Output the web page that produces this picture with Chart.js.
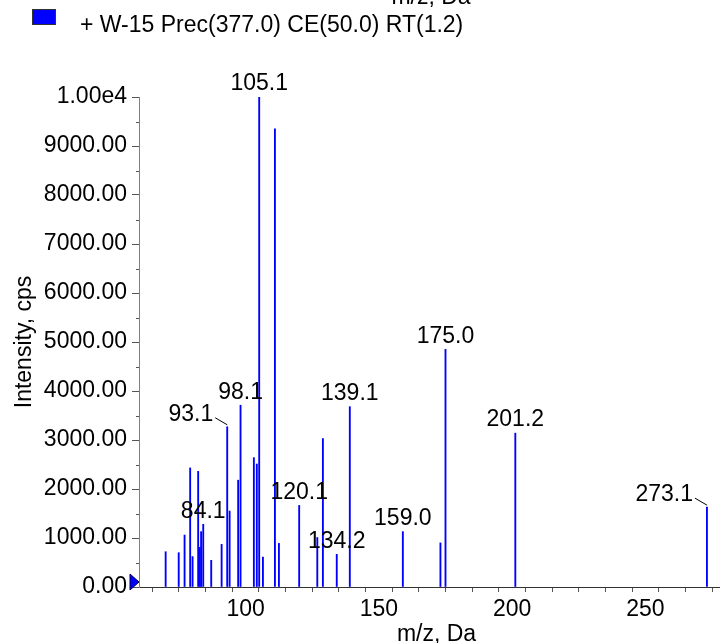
<!DOCTYPE html>
<html><head><meta charset="utf-8">
<script src="https://cdn.jsdelivr.net/npm/chart.js@4.4.1/dist/chart.umd.min.js"></script>
<style>html,body{margin:0;padding:0;background:#fff;}canvas{display:block;}</style>
</head><body>
<canvas id="c" width="720" height="643"></canvas>
<script>
// ---- data ----
const seriesName = '+ W-15 Prec(377.0) CE(50.0) RT(1.2)';
const mzValues = [70.0, 74.9, 77.1, 79.2, 80.1, 82.2, 82.8, 83.3, 84.1, 87.1, 91.0, 93.1, 94.0, 97.2, 98.1,
  103.1, 104.2, 105.1, 106.5, 111.0, 112.5, 120.1, 126.9, 129.0, 134.2, 139.1, 159.0, 173.1, 175.0, 201.2, 273.1];
const intensities = [720, 700, 1060, 2430, 620, 2360, 810, 1130, 1280, 545, 870, 3270, 1550, 2180, 3710,
  2640, 2510, 10000, 610, 9350, 890, 1665, 1010, 3030, 667, 3680, 1130, 900, 4850, 3140, 1630];
const labelledPeaks = [84.1, 93.1, 98.1, 105.1, 120.1, 134.2, 139.1, 159.0, 175.0, 201.2, 273.1];
const leaderPeaks = [93.1, 273.1];
const yTickLabels = ['0.00', '1000.00', '2000.00', '3000.00', '4000.00', '5000.00', '6000.00', '7000.00', '8000.00', '9000.00', '1.00e4'];
const xTickLabels = [100, 150, 200, 250];
const xTitle = 'm/z, Da';
const yTitle = 'Intensity, cps';

const FAMILY = "'Liberation Sans', Arial, sans-serif";
const FONT = '23px ' + FAMILY;
Chart.defaults.font.family = FAMILY;
Chart.defaults.font.size = 23;
Chart.defaults.color = '#000';

const decor = {
  id: 'decor',
  afterDraw(chart) {
    const {ctx, chartArea: a, scales: {x, y}} = chart;
    ctx.save();
    // minor y ticks
    ctx.strokeStyle = '#555'; ctx.lineWidth = 1;
    for (let v = 500; v < 10000; v += 1000) {
      const py = Math.round(y.getPixelForValue(v)) + 0.5;
      ctx.beginPath(); ctx.moveTo(a.left - 3, py); ctx.lineTo(a.left, py); ctx.stroke();
    }
    // origin marker
    const y0 = y.getPixelForValue(0);
    ctx.fillStyle = '#0000ff'; ctx.strokeStyle = '#000040';
    ctx.beginPath(); ctx.moveTo(a.left - 9, y0 - 13); ctx.lineTo(a.left, y0 - 5); ctx.lineTo(a.left - 9, y0 + 3); ctx.closePath();
    ctx.fill(); ctx.stroke();
    // legend
    ctx.fillStyle = '#0000ff'; ctx.fillRect(32, 9, 24, 16);
    ctx.strokeStyle = '#333'; ctx.strokeRect(32.5, 9.5, 23, 15);
    ctx.fillStyle = '#000'; ctx.font = FONT; ctx.textAlign = 'left'; ctx.textBaseline = 'alphabetic';
    ctx.fillText(seriesName, 80, 32);
    // titles
    ctx.textAlign = 'center';
    ctx.fillText(xTitle, 431, 4);
    ctx.fillText(xTitle, (a.left + a.right) / 2 + 7, 641);
    // peak labels
    ctx.textBaseline = 'middle';
    ctx.strokeStyle = '#000'; ctx.lineWidth = 1;
    labelledPeaks.forEach(mz => {
      const i = mzValues.indexOf(mz);
      const px = x.getPixelForValue(mz), py = y.getPixelForValue(intensities[i]);
      const text = mz.toFixed(1);
      if (leaderPeaks.includes(mz)) {
        ctx.textAlign = 'right';
        const rx = px - 14, cy = py - 12;
        ctx.fillText(text, rx, cy);
        ctx.beginPath(); ctx.moveTo(rx + 2, cy + 3); ctx.lineTo(px, py - 2); ctx.stroke();
      } else {
        ctx.textAlign = 'center';
        ctx.fillText(text, px, py - 13);
      }
    });
    ctx.restore();
  }
};

new Chart(document.getElementById('c'), {
  type: 'bar',
  data: {
    datasets: [{
      label: seriesName,
      data: mzValues.map((m, i) => ({x: m, y: intensities[i]})),
      backgroundColor: '#0000ff',
      borderWidth: 0,
      barThickness: 1.2
    }]
  },
  options: {
    responsive: false,
    animation: false,
    layout: {padding: {top: 97, left: 0, right: 0, bottom: 0}},
    plugins: {legend: {display: false}, tooltip: {enabled: false}},
    scales: {
      x: {
        type: 'linear', min: 60, max: 278, offset: false,
        afterFit(s) { s.height = 56; },
        ticks: {
          stepSize: 10, includeBounds: false, autoSkip: false, maxRotation: 0, padding: 4,
          callback: v => xTickLabels.includes(v) ? String(v) : ''
        },
        grid: {drawOnChartArea: false, drawTicks: true, tickLength: 5, tickColor: '#555'},
        border: {display: true, color: '#333'}
      },
      y: {
        min: 0, max: 10000,
        afterFit(s) { s.width = 139; },
        ticks: {
          stepSize: 1000, padding: 5, autoSkip: false,
          callback: v => yTickLabels[Math.round(v / 1000)]
        },
        grid: {drawOnChartArea: false, drawTicks: true, tickLength: 7, tickColor: '#555'},
        border: {display: true, color: '#808080'},
        title: {display: true, text: yTitle, padding: {top: 11, bottom: 0}, font: {size: 23}}
      }
    }
  },
  plugins: [decor]
});
</script>
</body></html>
